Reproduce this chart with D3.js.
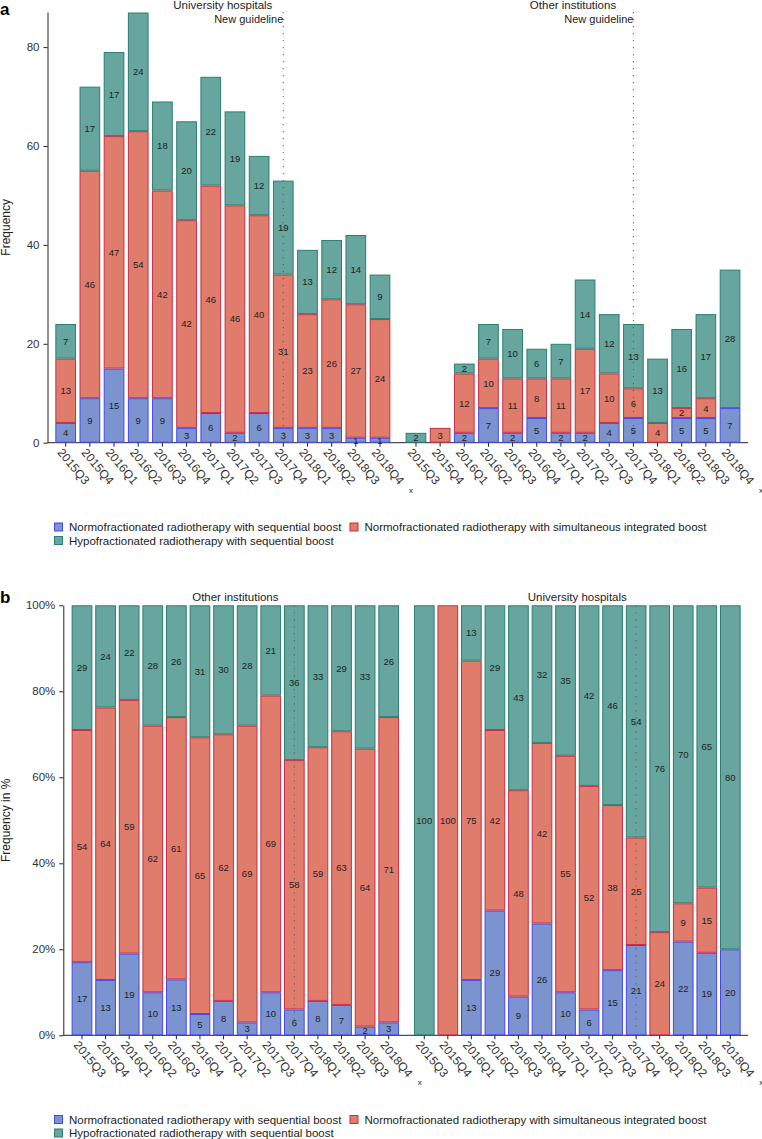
<!DOCTYPE html>
<html><head><meta charset="utf-8">
<script src="https://cdn.jsdelivr.net/npm/d3@7"></script>
<style>body{margin:0;background:#fff}svg{display:block;font-family:"Liberation Sans",Arial,Helvetica,sans-serif}</style>
</head><body><svg id="c" width="762" height="1139"></svg>
<script>
// ---------- data ----------
const quarters = ["2015Q3","2015Q4","2016Q1","2016Q2","2016Q3","2016Q4","2017Q1","2017Q2","2017Q3","2017Q4","2018Q1","2018Q2","2018Q3","2018Q4"];
const seriesNames = ["Normofractionated radiotherapy with sequential boost","Normofractionated radiotherapy with simultaneous integrated boost","Hypofractionated radiotherapy with sequential boost"];
// panel a: counts
const uniSeq  = [4,9,15,9,9,3,6,2,6,3,3,3,1,1];
const uniSib  = [13,46,47,54,42,42,46,46,40,31,23,26,27,24];
const uniHypo = [7,17,17,24,18,20,22,19,12,19,13,12,14,9];
const othSeq  = [0,0,2,7,2,5,2,2,4,5,0,5,5,7];
const othSib  = [0,3,12,10,11,8,11,17,10,6,4,2,4,0];
const othHypo = [2,0,2,7,10,6,7,14,12,13,13,16,17,28];
// panel b: percentages (as labelled)
const pLeftSeq   = [17,13,19,10,13,5,8,3,10,6,8,7,2,3];
const pLeftSib   = [54,64,59,62,61,65,62,69,69,58,59,63,64,71];
const pLeftHypo  = [29,24,22,28,26,31,30,28,21,36,33,29,33,26];
const pRightSeq  = [0,0,13,29,9,26,10,6,15,21,0,22,19,20];
const pRightSib  = [0,100,75,42,48,42,55,52,38,25,24,9,15,0];
const pRightHypo = [100,0,13,29,43,32,35,42,46,54,76,70,65,80];
const countTicks = [0,20,40,60,80];
const pctTicks = [0,0.2,0.4,0.6,0.8,1];
const guideQuarter = "2017Q4";

const keys = ["seq","sib","hypo"];
const fills = ["#7b94cf","#e07c6c","#66a69e"];
const strokes = ["#4646ee","#cc2c45","#2a7f6f"];
const rows = (a,b,c) => quarters.map((q,i)=>({q, seq:a[i], sib:b[i], hypo:c[i]}));

const svg = d3.select("#c");

function panel(o){
  const g = svg.append("g");
  const y = o.y;
  const [yBot, yTop] = y.range();
  g.append("text").attr("x",0).attr("y",o.letterY).attr("font-size",17).attr("font-weight","bold").attr("fill","#000").text(o.letter);
  const ya = g.append("g").attr("transform",`translate(${o.axisX},0)`)
    .call(d3.axisLeft(y).tickValues(o.ticks).tickFormat(o.fmt).tickSize(4).tickPadding(4).tickSizeOuter(0));
  ya.selectAll("text").attr("font-size",11.5).attr("fill","#333").attr("font-family",null);
  ya.selectAll("line,path").attr("stroke","#222");
  g.append("text").attr("transform",`translate(10,${(yBot+yTop)/2}) rotate(-90)`)
    .attr("text-anchor","middle").attr("font-size",12).attr("fill","#222").text(o.yTitle);
  g.append("line").attr("x1",o.axisX).attr("x2",748).attr("y1",yBot).attr("y2",yBot).attr("stroke","#222");

  o.groups.forEach(gr=>{
    const x = d3.scaleBand().domain(quarters).range(gr.range).paddingInner(o.pad).paddingOuter(o.pad/2);
    const stack = d3.stack().keys(keys);
    if (o.expand) stack.offset(d3.stackOffsetExpand);
    const st = stack(gr.rows);
    st.forEach((s,k)=>{
      g.append("g").selectAll("rect").data(s.filter(d=>d.data[keys[k]]>0)).join("rect")
        .attr("x",d=>x(d.data.q)+0.5).attr("width",x.bandwidth()-1)
        .attr("y",d=>y(d[1])+0.5).attr("height",d=>Math.max(0,y(d[0])-y(d[1])-1))
        .attr("fill",fills[k]).attr("stroke",strokes[k]).attr("stroke-width",1);
    });
    st.forEach((s,k)=>{
      g.append("g").selectAll("text").data(s.filter(d=>d.data[keys[k]]>0)).join("text")
        .attr("x",d=>x(d.data.q)+x.bandwidth()/2).attr("y",d=>y((d[0]+d[1])/2)).attr("dy","0.36em")
        .attr("text-anchor","middle").attr("font-size",9.5).attr("fill","#222").text(d=>d.data[keys[k]]);
    });
    const gx = x(guideQuarter)+x.bandwidth()/2;
    g.append("line").attr("x1",gx).attr("x2",gx).attr("y1",yTop).attr("y2",yBot-3)
      .attr("stroke","#555").attr("stroke-width",1).attr("stroke-dasharray","1.2 5.8");
    if (o.guideLabel) g.append("text").attr("x",gx).attr("y",yTop+11).attr("text-anchor","end")
      .attr("font-size",11).attr("fill","#222").text("New guideline");
    g.append("text").attr("x",(gr.range[0]+gr.range[1])/2).attr("y",o.titleY).attr("text-anchor","middle")
      .attr("font-size",11.5).attr("fill","#222").text(gr.title);
    const xa = g.append("g").attr("transform",`translate(0,${yBot})`)
      .call(d3.axisBottom(x).tickSize(4).tickSizeOuter(0));
    xa.select(".domain").remove();
    xa.selectAll("line").attr("stroke","#222");
    xa.selectAll("text").attr("font-size",12).attr("fill","#333").attr("font-family",null)
      .attr("text-anchor","start").attr("y",null).attr("dy",null)
      .attr("transform","translate(-9,10) rotate(50)");
    const lastX = x(quarters[quarters.length-1])+x.bandwidth()/2;
    g.append("text").attr("x",lastX+29).attr("y",yBot+50).attr("font-size",8).attr("fill","#222").text("x");
  });

  const lg = g.append("g");
  const items = [[54.5,o.legY],[350,o.legY],[54.5,o.legY+13.5]];
  seriesNames.forEach((n,k)=>{
    const [lx,ly] = items[k];
    lg.append("rect").attr("x",lx).attr("y",ly-4).attr("width",8).attr("height",8)
      .attr("fill",fills[k]).attr("stroke",strokes[k]).attr("stroke-width",1);
    lg.append("text").attr("x",lx+14.5).attr("y",ly).attr("dy","0.36em").attr("font-size",11.5).attr("fill","#222").text(n);
  });
}

panel({
  letter:"a", letterY:15,
  y: d3.scaleLinear().domain([0,87.1]).range([442.7,12]),
  ticks: countTicks, fmt: d3.format("d"), yTitle:"Frequency",
  axisX:47.5, pad:0.144, expand:false, guideLabel:true, titleY:8.5, legY:527,
  groups:[
    {title:"University hospitals", rows: rows(uniSeq,uniSib,uniHypo), range:[53.6,392.1]},
    {title:"Other institutions", rows: rows(othSeq,othSib,othHypo), range:[403.9,742.1]}
  ]
});
panel({
  letter:"b", letterY:603,
  y: d3.scaleLinear().domain([0,1]).range([1035.3,605.3]),
  ticks: pctTicks, fmt: d3.format(".0%"), yTitle:"Frequency in %",
  axisX:63.3, pad:0.122, expand:true, guideLabel:false, titleY:600.5, legY:1119.5,
  groups:[
    {title:"Other institutions", rows: rows(pLeftSeq,pLeftSib,pLeftHypo), range:[70.2,400.5]},
    {title:"University hospitals", rows: rows(pRightSeq,pRightSib,pRightHypo), range:[412.5,742.1]}
  ]
});
</script></body></html>
